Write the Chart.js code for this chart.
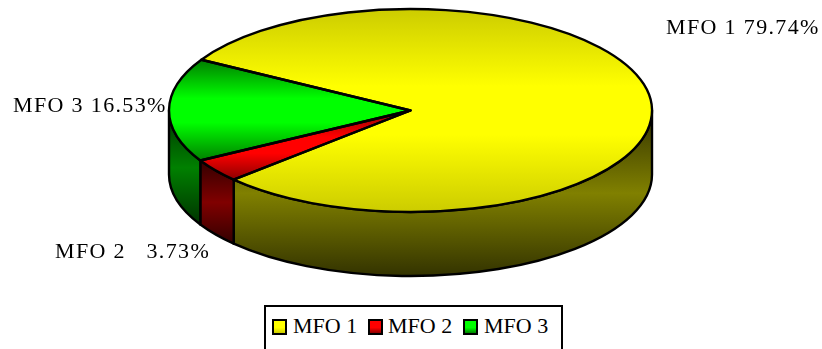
<!DOCTYPE html>
<html>
<head>
<meta charset="utf-8">
<title>MFO share</title>
<script src="https://cdn.jsdelivr.net/npm/chart.js@4"></script>
<style>
  html, body { margin: 0; padding: 0; background: #fff; overflow: hidden; }
  #wrap { position: relative; width: 822px; height: 349px; overflow: hidden; }
  canvas { display: block; }
  #legend {
    position: absolute; left: 264px; top: 305px; width: 295px; height: 60px;
    border: 2px solid #000; background: #fff;
    font: 22px "Liberation Serif", serif; color: #000;
  }
  #legend span { position: absolute; top: 7px; line-height: 24px; white-space: nowrap; }
  #legend i {
    position: absolute; top: 12px; width: 11px; height: 12px;
    border: 2px solid #000;
  }
</style>
</head>
<body>
<div id="wrap">
  <canvas id="pie" width="822" height="349"></canvas>
  <div id="legend"></div>
</div>
<script>
// Sample data
const categories = ['MFO 1', 'MFO 2', 'MFO 3'];
const shares = [79.74, 3.73, 16.53];

// ── Look of the pie ──────────────────────────────────────────
const baseColors = [[255, 255, 0], [255, 0, 0], [0, 255, 0]];
const edgeShade = [0.8, 0.55, 0.5];
const ROTATION = 300;
const RADIUS = 241.5;
const TILT = 101.5 / 241.5;
const DEPTH = 64;
const labelSpots = [[666, 34], [55, 258], [13, 112]];
const legendSpots = [[6, 27], [102, 122], [197, 218]];

const shade = (rgb, f) => `rgb(${rgb.map(c => Math.round(c * f)).join(',')})`;

// start and end angle of slice i, in canvas radians
function sliceAngles(i) {
  const total = shares.reduce((a, b) => a + b, 0);
  const before = shares.slice(0, i).reduce((a, b) => a + b, 0);
  const start = (ROTATION - 90) * Math.PI / 180 + before / total * Math.PI * 2;
  return [start, start + shares[i] / total * Math.PI * 2];
}

// top surface: each slice is shaded over its own height
function topFill(context) {
  const i = context.dataIndex;
  const { chart } = context;
  if (i === undefined || !chart.chartArea) return shade(baseColors[i || 0], 1);
  const cy = (chart.chartArea.top + chart.chartArea.bottom) / 2;
  const [a0, a1] = sliceAngles(i);
  let lo = 0, hi = 0;
  for (let a = a0; a <= a1; a += 0.01) {
    const s = Math.sin(a);
    lo = Math.min(lo, s);
    hi = Math.max(hi, s);
  }
  // gradient is in the unsquashed space the arc is filled in
  const g = chart.ctx.createLinearGradient(0, cy + lo * RADIUS, 0, cy + hi * RADIUS);
  g.addColorStop(0, shade(baseColors[i], edgeShade[i]));
  g.addColorStop(0.38, shade(baseColors[i], 1));
  g.addColorStop(0.62, shade(baseColors[i], 1));
  g.addColorStop(1, shade(baseColors[i], edgeShade[i]));
  return g;
}

function outlineStyle(ctx) {
  ctx.strokeStyle = '#000';
  ctx.lineWidth = 2.4;
  ctx.lineJoin = 'round';
}

// ── 3D walls, squashed top and outlines ──────────────────────
const tiltedPie = {
  id: 'tiltedPie',
  beforeDatasetsDraw(chart) {
    const { ctx } = chart;
    const arcs = chart.getDatasetMeta(0).data;
    const ry = RADIUS * TILT;

    arcs.forEach((arc, i) => {
      // only the front half of the rim can be seen
      for (let k = 0; k < 2; k++) {
        const base = Math.PI * 2 * k;
        const lo = Math.max(arc.startAngle, base);
        const hi = Math.min(arc.endAngle, base + Math.PI);
        if (hi <= lo) continue;

        let top = Infinity, bottom = -Infinity;
        for (let a = lo; a <= hi; a += 0.01) {
          top = Math.min(top, arc.y + ry * Math.sin(a));
          bottom = Math.max(bottom, arc.y + ry * Math.sin(a) + DEPTH);
        }
        const g = ctx.createLinearGradient(0, top, 0, bottom);
        g.addColorStop(0, shade(baseColors[i], 0.2));
        g.addColorStop(0.5, shade(baseColors[i], 0.5));
        g.addColorStop(1, shade(baseColors[i], 0.2));

        ctx.beginPath();
        ctx.ellipse(arc.x, arc.y, RADIUS, ry, 0, lo, hi);
        ctx.ellipse(arc.x, arc.y + DEPTH, RADIUS, ry, 0, hi, lo, true);
        ctx.closePath();
        ctx.fillStyle = g;
        ctx.fill();
        outlineStyle(ctx);
        ctx.stroke();
      }
    });

    const { x, y } = arcs[0];
    ctx.save();
    ctx.translate(x, y);
    ctx.scale(1, TILT);
    ctx.translate(-x, -y);
  },
  afterDatasetsDraw(chart) {
    const { ctx } = chart;
    ctx.restore();

    chart.getDatasetMeta(0).data.forEach((arc, i) => {
      ctx.beginPath();
      ctx.moveTo(arc.x, arc.y);
      ctx.ellipse(arc.x, arc.y, RADIUS, RADIUS * TILT, 0, arc.startAngle, arc.endAngle);
      ctx.closePath();
      outlineStyle(ctx);
      ctx.stroke();

      const pad = shares[i] < 10 ? '   ' : ' ';
      ctx.save();
      ctx.font = '22px "Liberation Serif", serif';
      ctx.letterSpacing = '1.35px';
      ctx.fillStyle = '#000';
      ctx.textBaseline = 'alphabetic';
      ctx.fillText(`${categories[i]}${pad}${shares[i].toFixed(2)}%`, labelSpots[i][0], labelSpots[i][1]);
      ctx.restore();
    });
  }
};

// ── Legend ───────────────────────────────────────────────────
function renderLegend() {
  document.getElementById('legend').innerHTML = categories.map((name, i) => {
    const [boxX, textX] = legendSpots[i];
    const grad = `linear-gradient(${shade(baseColors[i], 1)} 55%, ${shade(baseColors[i], edgeShade[i])})`;
    return `<i style="left:${boxX}px;background:${grad}"></i><span style="left:${textX}px">${name}</span>`;
  }).join('');
}

new Chart(document.getElementById('pie'), {
  type: 'pie',
  data: {
    labels: categories,
    datasets: [{
      data: shares,
      backgroundColor: topFill,
      borderWidth: 0,
      radius: RADIUS,
      clip: false
    }]
  },
  options: {
    responsive: false,
    animation: false,
    rotation: ROTATION,
    layout: { padding: { right: 1, bottom: 128 } },
    plugins: {
      legend: { display: false },
      tooltip: { enabled: false }
    }
  },
  plugins: [tiltedPie]
});

renderLegend();
</script>
</body>
</html>
